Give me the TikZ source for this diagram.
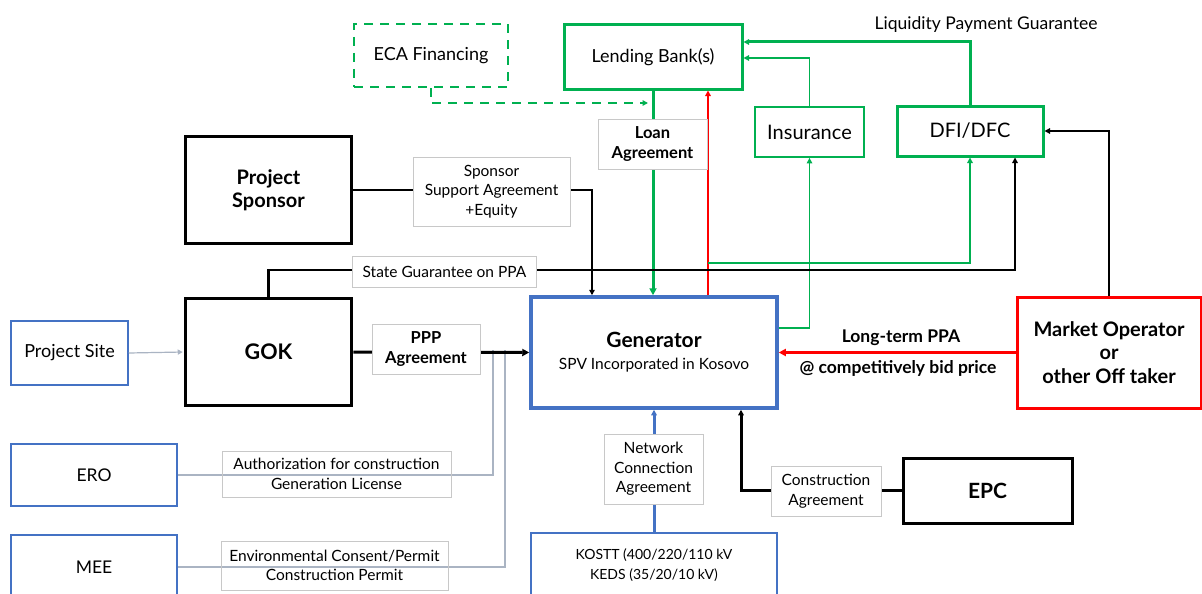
\documentclass[tikz,border=0pt]{standalone}
\usepackage{fontspec}
\setmainfont{Lato}
\usetikzlibrary{arrows.meta}
\definecolor{gr}{RGB}{0,176,80}
\definecolor{bl}{RGB}{68,114,196}
\definecolor{rd}{RGB}{255,0,0}
\definecolor{gline}{RGB}{170,180,195}
\definecolor{lbl}{RGB}{200,200,200}
\begin{document}
\begin{tikzpicture}[x=1pt,y=-1pt,
  box/.style={rectangle,inner sep=0pt,align=center,font=\fontsize{18}{21}\selectfont},
  lab/.style={rectangle,draw=lbl,line width=0.8pt,fill=white,inner sep=0pt,align=center,font=\fontsize{15.5}{19.5}\selectfont},
  tipA/.style={-{Triangle[length=7pt,width=7pt]}},
  tipB/.style={-{Triangle[length=5.5pt,width=5.5pt]}},
]
\useasboundingbox[fill=white] (0,0) rectangle (1202,594);
% nodes
\node[box,draw=gr,line width=2.5pt,dash pattern=on 9pt off 7pt,minimum width=154pt,minimum height=63pt] (eca) at (431,55.5) {ECA Financing};
\node[box,draw=gr,line width=3pt,minimum width=178pt,minimum height=64pt] (bank) at (653,57) {Lending Bank(s)};
\node[box,draw=gr,line width=1.8pt,minimum width=109pt,minimum height=50pt,font=\fontsize{20}{23}\selectfont] (ins) at (809.5,132) {Insurance};
\node[box,draw=gr,line width=3pt,minimum width=146pt,minimum height=50pt,font=\fontsize{20}{23}\selectfont] (dfi) at (970,131) {DFI/DFC};
\node[box,draw=black,line width=3.5pt,minimum width=166pt,minimum height=107pt,font=\bfseries\fontsize{20}{23}\selectfont] (sponsor) at (268.5,190) {Project\\Sponsor};
\node[box,draw=black,line width=3.5pt,minimum width=166pt,minimum height=107pt,font=\bfseries\fontsize{21.5}{24}\selectfont] (gok) at (268.5,352) {GOK};
\node[box,draw=bl,line width=1.5pt,minimum width=117pt,minimum height=64pt] (site) at (69.5,353) {Project Site};
\node[box,draw=bl,line width=3.5pt,minimum width=246pt,minimum height=111pt] (gen) at (654,352.5) {{\bfseries\fontsize{21}{22}\selectfont Generator}\\[1pt]{\fontsize{15.5}{18}\selectfont SPV Incorporated in Kosovo}};
\node[box,draw=rd,line width=3pt,minimum width=184pt,minimum height=111pt,font=\bfseries\fontsize{20}{23.5}\selectfont] (mo) at (1109,352.5) {Market Operator\\or\\other Off taker};
\node[box,draw=bl,line width=1.5pt,minimum width=166pt,minimum height=62pt,font=\fontsize{17.5}{21}\selectfont] (ero) at (94,475) {ERO};
\node[box,draw=bl,line width=1.5pt,minimum width=166pt,minimum height=64pt,font=\fontsize{17.5}{21}\selectfont] (mee) at (94,567) {MEE};
\node[box,draw=bl,line width=1.5pt,minimum width=246pt,minimum height=64pt,font=\fontsize{14}{19.5}\selectfont] (kostt) at (654,565) {KOSTT (400/220/110 kV\\KEDS (35/20/10 kV)};
\node[box,draw=black,line width=3pt,minimum width=169pt,minimum height=65pt,font=\bfseries\fontsize{21}{23}\selectfont] (epc) at (987.5,490.5) {EPC};
% helper coordinates
\coordinate (rx) at (708,0);
\coordinate (sx) at (592,0);
\coordinate (dx) at (1015,0);
\coordinate (ex) at (741,0);
\coordinate (insy) at (0,328);
\coordinate (gy) at (0,263);
\coordinate (sy) at (0,270);
\coordinate (ly1) at (0,42);
\coordinate (ly2) at (0,58);
\coordinate (ecaend) at (648,103);
\coordinate (ppy) at (0,350);
\coordinate (erox) at (493,0);
\coordinate (meex) at (505,0);
% connectors
\draw[gr,line width=2.5pt,dash pattern=on 9pt off 7pt,tipB] (eca.south) |- (ecaend);
\draw[gr,line width=3pt,tipA] (bank.south) -- (bank.south |- gen.north);
\draw[rd,line width=2.5pt,tipB] (gen.north -| rx) -- (bank.south -| rx);
\draw[gr,line width=1.8pt,tipB] (insy -| gen.east) -| (ins.south);
\draw[gr,line width=2.5pt,tipB] (gy -| rx) -| (dfi.south);
\draw[black,line width=2.5pt,tipB] (gok.north) |- (sy -| dx) -- (dfi.south -| dx);
\draw[black,line width=2.5pt,tipB] (sponsor.east) -| (gen.north -| sx);
\draw[black,line width=1.6pt,tipB] (mo.north) |- (dfi.east);
\draw[gr,line width=3pt,tipB] (dfi.north) |- (ly1 -| bank.east);
\draw[gr,line width=1.8pt,tipB] (ins.north) |- (ly2 -| bank.east);
\draw[rd,line width=3pt,tipA] (mo.west) -- (gen.east);
\draw[gline,line width=1.2pt,-{Triangle[length=5pt,width=5pt]},shorten >=1pt] (site.east) -- (gok.west);
\draw[gline,line width=1.2pt] (ero.east) -| (ppy -| erox);
\draw[gline,line width=1.2pt] (mee.east) -| (ppy -| meex);
\draw[black,line width=3pt,tipA] (gok.east) -- (gen.west);
\draw[bl,line width=3pt,tipB] (kostt.north) -- (gen.south);
\draw[black,line width=3pt,tipB] (epc.west) -| (gen.south -| ex);
% labels
\node[lab,minimum width=157pt,minimum height=69pt] (lsp) at (491.5,191.5) {Sponsor\\Support Agreement\\+Equity};
\node[lab,minimum width=184pt,minimum height=31pt] (lsg) at (444.5,272) {State Guarantee on PPA};
\node[lab,minimum width=109pt,minimum height=50pt,font=\bfseries\fontsize{16.5}{19.5}\selectfont] (lloan) at (652.5,144) {Loan\\Agreement};
\node[lab,minimum width=108pt,minimum height=50pt,font=\bfseries\fontsize{16.5}{19.5}\selectfont] (lppp) at (426,349) {PPP\\Agreement};
\node[lab,minimum width=229pt,minimum height=46pt,fill=none] (lauth) at (336.5,474) {Authorization for construction\\Generation License};
\node[lab,minimum width=227pt,minimum height=49pt,fill=none] (lenv) at (334.5,565.5) {Environmental Consent/Permit\\Construction Permit};
\node[lab,minimum width=99pt,minimum height=70pt] (lnet) at (653.5,469) {Network\\Connection\\Agreement};
\node[lab,minimum width=110pt,minimum height=50pt] (lcon) at (826,491) {Construction\\Agreement};
\node[font=\bfseries\fontsize{17.5}{20}\selectfont] (lppa) at (901,338) {Long-term PPA};
\node[font=\bfseries\fontsize{17.5}{20}\selectfont] (lbid) at (898,368) {@ competitively bid price};
\node[font=\fontsize{17.5}{20}\selectfont] (lliq) at (986,25) {Liquidity Payment Guarantee};
\end{tikzpicture}
\end{document}
